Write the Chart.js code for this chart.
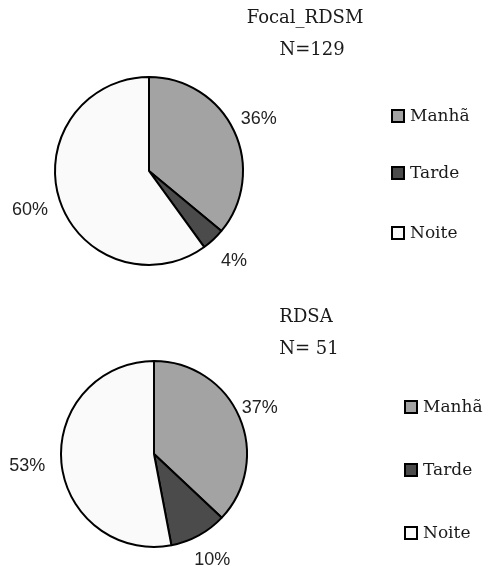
<!DOCTYPE html>
<html>
<head>
<meta charset="utf-8">
<script src="https://cdn.jsdelivr.net/npm/chart.js@4/dist/chart.umd.min.js"></script>
<style>
  html, body { margin: 0; padding: 0; background: #ffffff; }
  #wrap { position: relative; width: 494px; height: 566px; }
  canvas { position: absolute; left: 0; }
</style>
</head>
<body>
<div id="wrap">
  <canvas id="c1" width="494" height="283" style="top:0"></canvas>
  <canvas id="c2" width="494" height="283" style="top:283px"></canvas>
</div>
<script>
// Period of the day, shared by both groups
const categories = ['Manhã', 'Tarde', 'Noite'];
const sliceColors = ['#a3a3a3', '#4b4b4b', '#fafafa'];

// Focal_RDSM group (N=129), percentages
const focalTitle = ['Focal_RDSM', 'N=129'];
const focalValues = [36, 4, 60];

// RDSA group (N=51), percentages
const rdsaTitle = ['RDSA', 'N= 51'];
const rdsaValues = [37, 10, 53];

const serif = '"DejaVu Serif", "Liberation Serif", serif';
const sans = '"Liberation Sans", Arimo, sans-serif';

// Draws the percentage labels, the heading lines and the legend column
const annotate = {
  id: 'annotate',
  afterDraw(chart, args, o) {
    const ctx = chart.ctx;
    const meta = chart.getDatasetMeta(0);
    const vals = chart.data.datasets[0].data;
    ctx.save();
    ctx.textAlign = 'center';
    ctx.textBaseline = 'middle';
    ctx.fillStyle = '#222222';
    ctx.font = '18px ' + sans;
    meta.data.forEach((arc, i) => {
      const mid = (arc.startAngle + arc.endAngle) / 2;
      const d = arc.outerRadius * o.labelFactor[i];
      ctx.fillText(vals[i] + '%', arc.x + Math.cos(mid) * d, arc.y + Math.sin(mid) * d);
    });

    ctx.fillStyle = '#1a1a1a';
    ctx.font = '18px ' + serif;
    o.title.forEach((line, i) => {
      ctx.fillText(line, o.titlePos[i][0], o.titlePos[i][1]);
    });

    ctx.textAlign = 'left';
    ctx.font = '17px ' + serif;
    chart.data.labels.forEach((lab, i) => {
      const y = o.legendY[i];
      const s = 12;
      ctx.fillStyle = chart.data.datasets[0].backgroundColor[i];
      ctx.fillRect(o.legendX, y - s / 2, s, s);
      ctx.lineWidth = 2;
      ctx.strokeStyle = '#000000';
      ctx.strokeRect(o.legendX, y - s / 2, s, s);
      ctx.fillStyle = '#1a1a1a';
      ctx.fillText(lab, o.legendX + s + 6, y + 1);
    });
    ctx.restore();
  }
};

function makePie(id, values, pad, extra) {
  return new Chart(document.getElementById(id), {
    type: 'pie',
    data: {
      labels: categories,
      datasets: [{
        data: values,
        backgroundColor: sliceColors,
        borderColor: '#000000',
        borderWidth: 2,
        borderAlign: 'center'
      }]
    },
    options: {
      responsive: false,
      devicePixelRatio: 1,
      animation: false,
      layout: { padding: pad },
      plugins: {
        legend: { display: false },
        tooltip: { enabled: false },
        annotate: extra
      }
    },
    plugins: [annotate]
  });
}

makePie('c1', focalValues,
  { left: 54, right: 250, top: 76, bottom: 17 },
  {
    title: focalTitle,
    titlePos: [[305, 18], [312, 50]],
    labelFactor: [1.29, 1.32, 1.33],
    legendX: 392,
    legendY: [116, 173, 233]
  });

makePie('c2', rdsaValues,
  { left: 60, right: 246, top: 77, bottom: 18 },
  {
    title: rdsaTitle,
    titlePos: [[306, 34], [309, 66]],
    labelFactor: [1.24, 1.3, 1.37],
    legendX: 405,
    legendY: [124, 187, 250]
  });
</script>
</body>
</html>
